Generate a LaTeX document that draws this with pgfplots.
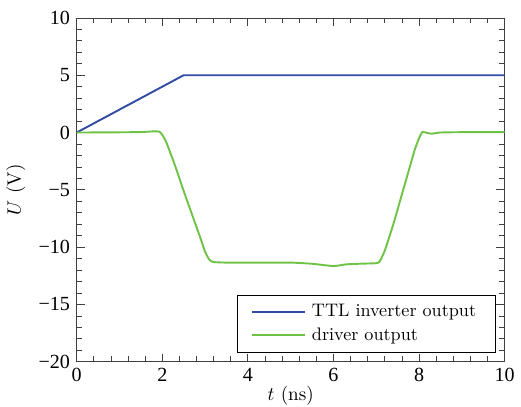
\documentclass[border=0pt]{standalone}
\usepackage{fontspec}
\usepackage{pgfplots}
\pgfplotsset{compat=1.18}
\newfontfamily\timesf{Liberation Serif}
\newcommand\tl[1]{\mbox{\timesf\fontsize{10.5}{12}\selectfont #1}}
\definecolor{ttlblue}{RGB}{50,75,165}
\definecolor{drvgreen}{RGB}{110,195,70}
\begin{document}
\begin{tikzpicture}
\begin{axis}[
  scale only axis,
  width=224pt, height=180pt,
  xmin=0, xmax=10, ymin=-20, ymax=10,
  xtick={0,2,...,10}, ytick={-20,-15,...,10},
  xticklabels={\tl{0},\tl{2},\tl{4},\tl{6},\tl{8},\tl{10}},
  yticklabels={\tl{−20},\tl{−15},\tl{−10},\tl{−5},\tl{0},\tl{5},\tl{10}},
  minor x tick num=4, minor y tick num=4,
  tick align=inside,
  axis line style={black!75},
  every tick/.style={black!75},
  xlabel={$t$ (ns)}, ylabel={$U$ (V)},
  xlabel style={inner sep=1pt, yshift=2.5pt},
  legend style={at={(0.979,0.026)}, anchor=south east, draw=black, font=\fontsize{9.5}{11.5}\selectfont, legend cell align=left, inner xsep=7pt, inner ysep=3pt,
    nodes={inner xsep=3pt}},
  legend image code/.code={\draw[#1] (0pt,0pt) -- (28pt,0pt);},
]
\addplot[ttlblue, line width=1pt] coordinates {(0,0) (2.5,5) (10,5)};
\addlegendentry{TTL inverter output\hspace{11pt}}
\addplot[drvgreen, line width=1pt, smooth, tension=0.3] coordinates {
(0,0) (1.0,0.02) (1.5,0.04) (1.8,0.1) (1.93,0.08) (2.0,-0.2) (2.1,-0.9) (2.3,-2.9) (2.5,-5.1) (2.7,-7.2) (2.9,-9.3) (3.0,-10.4) (3.1,-11.1) (3.2,-11.3) (3.5,-11.35) (4,-11.35) (5,-11.35) (5.5,-11.45) (6,-11.65) (6.3,-11.5) (6.6,-11.45) (7.0,-11.4) (7.08,-11.25) (7.2,-10.3) (7.4,-8.0) (7.6,-5.4) (7.8,-2.8) (7.9,-1.5) (8.0,-0.5) (8.08,0.05) (8.2,-0.05) (8.3,-0.1) (8.5,0) (9,0.03) (10,0.03)};
\addlegendentry{driver output}
\end{axis}
\path ([yshift=2.5pt]current bounding box.north);
\end{tikzpicture}
\end{document}
